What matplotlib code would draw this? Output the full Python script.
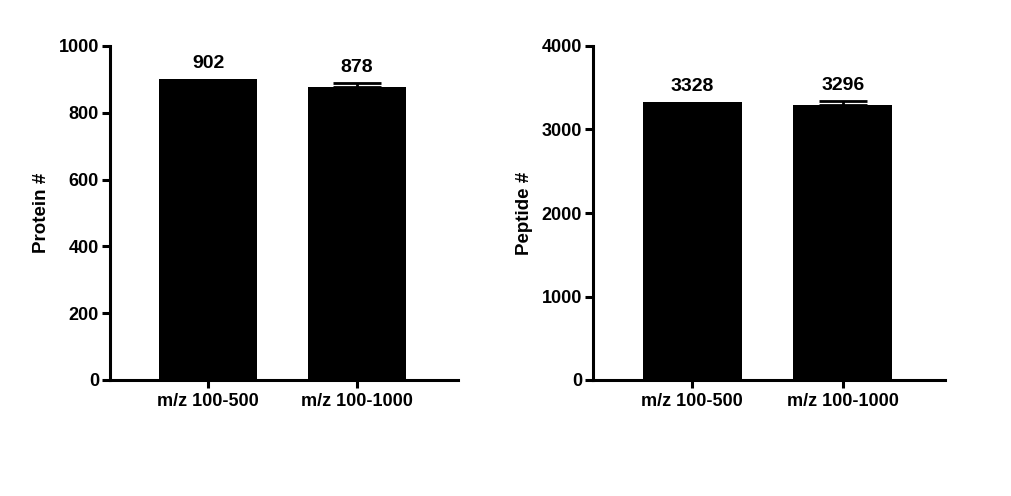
import matplotlib
matplotlib.use('Agg')
import matplotlib.pyplot as plt
import numpy as np

plt.rcParams['font.family'] = ['Liberation Sans', 'DejaVu Sans']
plt.rcParams['font.weight'] = 'bold'

groups = ['m/z 100-500', 'm/z 100-1000']
protein = [902, 878]
protein_err = [0, 10]
peptide = [3328, 3296]
peptide_err = [0, 50]

fig = plt.figure(figsize=(10.12, 4.96), dpi=100)
ax1 = fig.add_axes([110 / 1012, 116 / 496, 348 / 1012, 334 / 496])
ax2 = fig.add_axes([593 / 1012, 116 / 496, 352 / 1012, 334 / 496])


def draw(ax, vals, errs, ymax, step, ylabel):
    x = np.arange(len(vals))
    ax.bar(x, vals, width=0.66, color='black', zorder=2)
    # only draw error bars where there is a spread
    for xi, v, e in zip(x, vals, errs):
        if e > 0:
            ax.errorbar(xi, v, yerr=[[0], [e]], fmt='none', ecolor='black',
                        elinewidth=2, capsize=17, capthick=2, zorder=1)
        ax.annotate(str(v), (xi, v + e), xytext=(0, 5), textcoords='offset points',
                    ha='center', va='bottom', fontsize=14, fontweight='bold')
    ax.set_xlim(-0.66, 1.68)
    ax.set_ylim(0, ymax)
    ax.set_yticks(np.arange(0, ymax + 1, step))
    ax.set_xticks(x)
    ax.set_xticklabels(groups, fontsize=12.5, fontweight='bold')
    ax.set_ylabel(ylabel, fontsize=13.5, fontweight='bold', labelpad=6)
    for s in ['top', 'right']:
        ax.spines[s].set_visible(False)
    for s in ['left', 'bottom']:
        ax.spines[s].set_linewidth(2.2)
    ax.tick_params(axis='both', width=2.2, length=6, labelsize=13)
    ax.tick_params(axis='y', pad=2)
    for lab in ax.get_yticklabels():
        lab.set_fontweight('bold')


draw(ax1, protein, protein_err, 1000, 200, 'Protein #')
draw(ax2, peptide, peptide_err, 4000, 1000, 'Peptide #')

fig.savefig('out.png', dpi=100)
